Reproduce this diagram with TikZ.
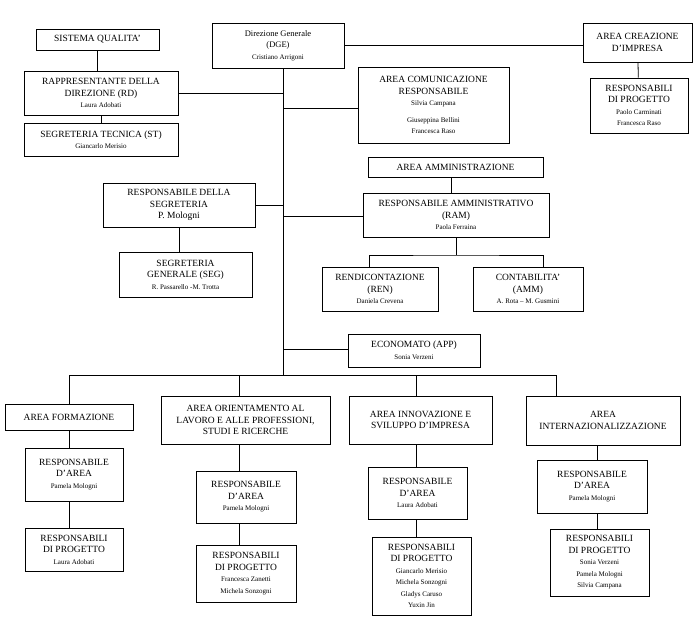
\documentclass[tikz,border=0pt]{standalone}
\usepackage{fontspec}
\setmainfont{Liberation Serif}
\begin{document}
\begin{tikzpicture}[x=1pt,y=-1pt,
  bx/.style={draw,line width=0.8pt,align=center,inner sep=0pt,font=\fontsize{9.5}{11.5}\selectfont},
  ln/.style={line width=0.8pt}]
\newcommand{\nm}[1]{{\fontsize{7}{9}\selectfont #1}}
\newcommand{\bx}[6]{\node[bx,minimum width=#4-#2,minimum height=#5-#3] (#1) at ({(#2+#4)/2},{(#3+#5)/2}) {#6};}
\useasboundingbox (0,0) rectangle (700,637);
\bx{sq}{36}{29}{159}{50}{SISTEMA QUALITA'}
\bx{rd}{24}{71}{178}{115}{RAPPRESENTANTE DELLA\\DIREZIONE (RD)\\\nm{Laura Adobati}}
\bx{st}{24}{123}{178}{156}{SEGRETERIA TECNICA (ST)\\\nm{Giancarlo Merisio}}
\bx{dge}{212}{23}{344}{68}{\fontsize{8.5}{10.5}\selectfont Direzione Generale\\\fontsize{8.5}{10.5}\selectfont (DGE)\\\nm{Cristiano Arrigoni}}
\bx{acr}{358}{67}{509}{143}{AREA COMUNICAZIONE\\RESPONSABILE\\\nm{Silvia Campana}\\[5pt]\nm{Giuseppina Bellini}\\\nm{Francesca Raso}}
\bx{aci}{583}{23}{692}{62}{AREA CREAZIONE\\D'IMPRESA}
\bx{rpc}{590}{78}{688}{133}{RESPONSABILI\\DI PROGETTO\\\nm{Paolo Carminati}\\\nm{Francesca Raso}}
\bx{aam}{368}{157}{543}{177}{AREA AMMINISTRAZIONE}
\bx{ram}{363}{193}{549}{237}{RESPONSABILE AMMINISTRATIVO\\(RAM)\\\nm{Paola Ferraina}}
\bx{rseg}{103}{183}{255}{227}{RESPONSABILE DELLA\\SEGRETERIA\\P. Mologni}
\bx{seg}{119}{252}{252}{297}{SEGRETERIA\\GENERALE (SEG)\\\nm{R. Passarello -M. Trotta}}
\bx{ren}{322}{267}{438}{311}{RENDICONTAZIONE\\(REN)\\\nm{Daniela Crevena}}
\bx{cont}{473}{267}{583}{311}{CONTABILITA'\\(AMM)\\\nm{A. Rota -- M. Gusmini}}
\bx{eco}{348}{334}{480}{367}{ECONOMATO (APP)\\\nm{Sonia Verzeni}}
\bx{af}{5}{404}{133}{430}{AREA FORMAZIONE}
\bx{ao}{161}{396}{330}{444}{AREA ORIENTAMENTO AL\\LAVORO E ALLE PROFESSIONI,\\STUDI E RICERCHE}
\bx{ai}{349}{396}{492}{444}{AREA INNOVAZIONE E\\SVILUPPO D'IMPRESA}
\bx{aint}{526}{396}{680}{445}{AREA\\INTERNAZIONALIZZAZIONE}
\bx{ra1}{25}{448}{123}{501}{RESPONSABILE\\D'AREA\\\nm{Pamela Mologni}}
\bx{rp1}{25}{528}{123}{571}{RESPONSABILI\\DI PROGETTO\\\nm{Laura Adobati}}
\bx{ra2}{196}{471}{296}{523}{RESPONSABILE\\D'AREA\\\nm{Pamela Mologni}}
\bx{rp2}{196}{545}{296}{602}{RESPONSABILI\\DI PROGETTO\\\nm{Francesca Zanetti}\\\nm{Michela Sonzogni}}
\bx{ra3}{368}{467}{467}{519}{RESPONSABILE\\D'AREA\\\nm{Laura Adobati}}
\bx{rp3}{372}{537}{471}{615}{RESPONSABILI\\DI PROGETTO\\\nm{Giancarlo Merisio}\\\nm{Michela Sonzogni}\\\nm{Gladys Caruso}\\\nm{Yuxin Jin}}
\bx{ra4}{537}{460}{647}{513}{RESPONSABILE\\D'AREA\\\nm{Pamela Mologni}}
\bx{rp4}{550}{529}{649}{596}{RESPONSABILI\\DI PROGETTO\\\nm{Sonia Verzeni}\\\nm{Pamela Mologni}\\\nm{Silvia Campana}}
\coordinate (tb) at (283,375);
\coordinate (hl) at (69,375);
\coordinate (hr) at (556,375);
\coordinate (ramb) at (456,255);
% trunk
\draw[ln] (dge.south -| tb) -- (tb);
\draw[ln] (dge.east) -- (aci.west |- dge.east);
\draw[ln] (aci) -- (rpc);
\draw[ln] (sq) -- (sq |- rd.north);
\draw[ln] (rd) -- (rd |- st.north);
\draw[ln] (rd.east) -- (rd.east -| tb);
\draw[ln] (acr.west |- 0,108) -- (tb |- 0,108);
\draw[ln] (rseg.east) -- (rseg.east -| tb);
\draw[ln] (rseg) -- (rseg |- seg.north);
\draw[ln] (ram.west |- 0,216) -- (tb |- 0,216);
\draw[ln] (451,177) -- (451,193);
\draw[ln] (ramb |- ram.south) -- (ramb);
\draw[ln] (ren.north -| 369,0) |- (ramb) -| (cont.north -| 543,0);
\draw[ln] (eco.west |- 0,349) -- (tb |- 0,349);
\draw[ln] (hl) -- (hr);
\draw[ln] (hl) -- (hl |- af.north);
\draw[ln] (239,375) -- (239,396);
\draw[ln] (416,375) -- (416,396);
\draw[ln] (hr) -- (hr |- aint.north);
\draw[ln] (69,430) -- (69,448); \draw[ln] (69,501) -- (69,528);
\draw[ln] (239,444) -- (239,471); \draw[ln] (239,523) -- (239,545);
\draw[ln] (416,444) -- (416,467); \draw[ln] (416,519) -- (416,537);
\draw[ln] (597,445) -- (597,460); \draw[ln] (597,513) -- (597,529);
\end{tikzpicture}
\end{document}
